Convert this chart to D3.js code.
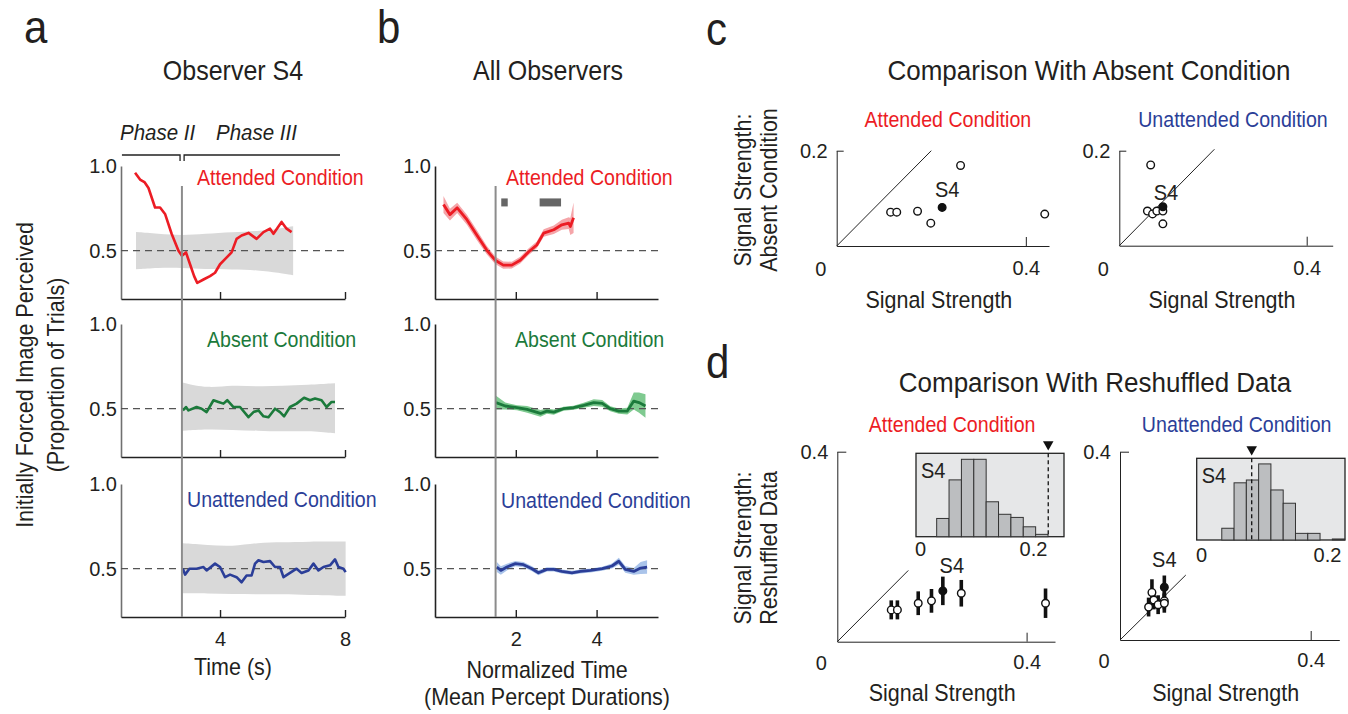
<!DOCTYPE html>
<html>
<head>
<meta charset="utf-8">
<script src="https://cdn.jsdelivr.net/npm/d3@7"></script>
<style>
body { margin: 0; background: #fff; }
svg { font-family: "Liberation Sans", Arial, sans-serif; }
.ax text { font-size: 20px; fill: #231f20; font-family: "Liberation Sans", Arial, sans-serif; }
</style>
</head>
<body>
<svg id="chart" width="1348" height="714"></svg>
<script>
// ---- data ----
var condNames = ['Attended Condition', 'Absent Condition', 'Unattended Condition'];
var condColors = ['#ec1c24', '#1b7a3b', '#2b3e98'];
var bandColors = ['#f5a5a9', '#7fca90', '#aac4ea'];

// panel a : observer S4, [time (s), proportion]
var aAttended = [[1.28,0.96],[1.44,0.92],[1.58,0.905],[1.71,0.87],[1.92,0.755],[2.08,0.755],[2.24,0.717],[2.45,0.60],[2.67,0.50],[2.78,0.47],[2.91,0.49],[3.04,0.42],[3.17,0.35],[3.27,0.31],[3.47,0.33],[3.68,0.35],[3.84,0.37],[4.0,0.42],[4.16,0.45],[4.37,0.49],[4.53,0.57],[4.69,0.59],[4.91,0.605],[5.17,0.57],[5.39,0.61],[5.6,0.63],[5.71,0.60],[5.97,0.67],[6.13,0.63],[6.29,0.61]];
var aAbsent = [[2.81,0.49],[2.91,0.51],[2.99,0.49],[3.25,0.51],[3.41,0.50],[3.57,0.48],[3.79,0.55],[3.95,0.54],[4.11,0.53],[4.23,0.55],[4.43,0.51],[4.64,0.51],[4.91,0.45],[5.07,0.48],[5.23,0.49],[5.39,0.455],[5.55,0.45],[5.76,0.50],[5.92,0.48],[6.05,0.455],[6.24,0.51],[6.45,0.53],[6.69,0.565],[6.88,0.55],[7.04,0.56],[7.25,0.55],[7.41,0.51],[7.57,0.54],[7.68,0.54]];
var aUnattended = [[2.81,0.50],[2.88,0.465],[3.02,0.50],[3.25,0.50],[3.47,0.51],[3.57,0.49],[3.84,0.53],[4.0,0.51],[4.16,0.45],[4.32,0.465],[4.53,0.45],[4.69,0.42],[4.85,0.46],[5.01,0.46],[5.12,0.53],[5.23,0.55],[5.39,0.54],[5.6,0.545],[5.76,0.51],[5.92,0.51],[6.03,0.45],[6.24,0.475],[6.45,0.50],[6.61,0.475],[6.83,0.49],[6.99,0.53],[7.15,0.49],[7.31,0.51],[7.52,0.52],[7.68,0.555],[7.79,0.51],[7.95,0.50],[8.02,0.48]];
// shuffled-control bands, [time, low, high]
var aBandAttended = [[1.31,0.39,0.61],[2.0,0.40,0.60],[2.8,0.40,0.59],[3.5,0.39,0.60],[4.4,0.39,0.61],[5.2,0.385,0.615],[5.9,0.37,0.63],[6.34,0.355,0.645]];
var aBandAbsent = [[2.8,0.37,0.655],[3.6,0.38,0.62],[4.4,0.375,0.64],[5.2,0.37,0.63],[6.0,0.365,0.635],[6.8,0.37,0.64],[7.68,0.355,0.65]];
var aBandUnattended = [[2.8,0.355,0.65],[3.6,0.355,0.64],[4.4,0.35,0.63],[5.2,0.35,0.655],[6.0,0.35,0.655],[6.8,0.345,0.66],[8.02,0.34,0.66]];
var aOnset = 2.78;
var phaseNames = ['Phase II', 'Phase III'];
var phaseSpans = [[0.86, 2.72], [2.85, 7.84]];

// panel b : all observers, [normalized time, proportion, s.e.m.]
var bAttended = [[0.21,0.773,0.05],[0.37,0.713,0.035],[0.55,0.753,0.03],[0.79,0.683,0.03],[1.03,0.594,0.03],[1.28,0.504,0.025],[1.49,0.444,0.022],[1.69,0.415,0.022],[1.90,0.415,0.02],[2.11,0.444,0.02],[2.32,0.494,0.02],[2.52,0.534,0.02],[2.69,0.604,0.022],[2.94,0.624,0.025],[3.14,0.653,0.03],[3.31,0.663,0.035],[3.35,0.643,0.05],[3.43,0.694,0.09]];
var bAbsent = [[1.51,0.536,0.04],[1.74,0.516,0.02],[2.03,0.506,0.015],[2.28,0.496,0.02],[2.61,0.472,0.02],[2.77,0.486,0.015],[2.94,0.48,0.015],[3.18,0.50,0.012],[3.43,0.506,0.012],[3.68,0.52,0.015],[3.93,0.536,0.02],[4.14,0.532,0.02],[4.34,0.50,0.015],[4.55,0.486,0.015],[4.76,0.486,0.02],[4.92,0.545,0.05],[5.05,0.536,0.06],[5.21,0.516,0.07]];
var bUnattended = [[1.53,0.51,0.03],[1.63,0.49,0.025],[1.78,0.51,0.02],[1.99,0.53,0.015],[2.19,0.524,0.015],[2.40,0.50,0.015],[2.56,0.476,0.015],[2.77,0.496,0.012],[2.94,0.496,0.012],[3.14,0.484,0.012],[3.39,0.476,0.012],[3.60,0.484,0.012],[3.85,0.49,0.012],[4.14,0.50,0.012],[4.38,0.516,0.015],[4.55,0.544,0.02],[4.71,0.496,0.02],[4.92,0.484,0.02],[5.09,0.504,0.035],[5.25,0.51,0.04]];
var bSignificant = [[1.64, 1.80], [2.59, 3.12]];
var bOnset = 1.5;

// panel c/d : signal strength per observer (S4 marked by index)
var attX = [0.114, 0.127, 0.171, 0.199, 0.223, 0.262, 0.440];
var attAbsentY = [0.071, 0.071, 0.073, 0.048, 0.081, 0.169, 0.067];
var attShufY = [0.067, 0.067, 0.081, 0.086, 0.107, 0.102, 0.081];
var attShufErr = [0.02, 0.02, 0.025, 0.025, 0.03, 0.028, 0.031];
var attS4 = 4;
var unaX = [0.060, 0.067, 0.071, 0.080, 0.093, 0.093, 0.093];
var unaAbsentY = [0.073, 0.170, 0.067, 0.073, 0.073, 0.046, 0.082];
var unaShufY = [0.070, 0.101, 0.085, 0.075, 0.083, 0.078, 0.112];
var unaShufErr = [0.02, 0.028, 0.02, 0.02, 0.018, 0.02, 0.025];
var unaS4 = 6;

// reshuffled-data histograms for S4
var attHistEdges = [0.0295, 0.0514, 0.0733, 0.0952, 0.1171, 0.139, 0.1609, 0.1828, 0.2047, 0.2266];
var attHistCounts = [7.0, 21.8, 29.7, 29.7, 13.4, 8.6, 7.4, 3.8, 0.9];
var attHistMark = 0.227;
var unaHistEdges = [0.033, 0.0525, 0.072, 0.0915, 0.111, 0.1305, 0.15, 0.1695, 0.189, 0.2085, 0.228];
var unaHistCounts = [4.6, 22.4, 23.5, 29.8, 19.6, 14.4, 2.6, 2.6, 0, 0.4];
var unaHistMark = 0.0805;

// ---- drawing ----
var svg = d3.select('#chart');
var ink = '#231f20';

// text a bit taller and squeezed, to mimic the condensed face of the original
function txt(x, y, s, size, opt) {
  opt = opt || {};
  var t = svg.append('text').attr('x', x).attr('y', y).text(s)
    .attr('font-size', size * 1.09).attr('fill', opt.fill || ink)
    .attr('text-anchor', opt.anchor || 'middle');
  if (opt.italic) t.attr('font-style', 'italic');
  if (opt.rotate) t.attr('transform', 'rotate(-90,' + x + ',' + y + ')');
  var w = t.node().getComputedTextLength();
  t.attr('textLength', w / 1.09).attr('lengthAdjust', 'spacingAndGlyphs');
  return t;
}

function cleanAxis(g) {
  g.attr('class', 'ax').attr('font-size', null).attr('font-family', null);
  return g;
}

// panel letters and titles
txt(24, 43, 'a', 42, {anchor: 'start'});
txt(377, 43, 'b', 42, {anchor: 'start'});
txt(706, 45, 'c', 42, {anchor: 'start'});
txt(706, 378, 'd', 42, {anchor: 'start'});
txt(233, 80, 'Observer S4', 25);
txt(548, 80, 'All Observers', 25);
txt(1089, 80, 'Comparison With Absent Condition', 26);
txt(1095, 392, 'Comparison With Reshuffled Data', 26);

// ---- panels a and b ----
var subTops = [166, 324, 484], subH = 133;
var yDom = [0.215, 1.0];
var xA = d3.scaleLinear().domain([0.83, 8]).range([121, 345]);
var xB = d3.scaleLinear().domain([0, 5.52]).range([435, 658]);

var aLines = [aAttended, aAbsent, aUnattended];
var aBands = [aBandAttended, aBandAbsent, aBandUnattended];
var bLines = [bAttended, bAbsent, bUnattended];
var aLabelPos = [[197, 185], [207, 347], [187, 507]];
var bLabelPos = [[506, 185], [515, 347], [501, 508]];

function timeAxes(x, y, i, ticks, yColor) {
  var bottom = y.range()[0];
  cleanAxis(svg.append('g').attr('transform', 'translate(' + x.range()[0] + ',0)')
    .attr('color', yColor)
    .call(d3.axisLeft(y).tickValues([0.5, 1.0]).tickSize(0).tickSizeOuter(0).tickPadding(4).tickFormat(d3.format('.1f'))))
    .select('.domain').attr('stroke-width', 1.6);
  cleanAxis(svg.append('g').attr('transform', 'translate(0,' + bottom + ')')
    .attr('color', '#222')
    .call(d3.axisBottom(x).tickValues(ticks).tickSize(-7).tickSizeOuter(0).tickPadding(15)
      .tickFormat(i === 2 ? d3.format('d') : function() { return ''; })))
    .selectAll('path,line').attr('stroke-width', 1.4);
  svg.append('line')
    .attr('x1', x.range()[0]).attr('x2', x.range()[1])
    .attr('y1', y(0.5)).attr('y2', y(0.5))
    .attr('stroke', '#555').attr('stroke-width', 1.2).attr('stroke-dasharray', '7,5');
}

subTops.forEach(function(top, i) {
  var y = d3.scaleLinear().domain(yDom).range([top + subH, top]);

  // a
  svg.append('path').datum(aBands[i])
    .attr('d', d3.area().curve(d3.curveBasis)
      .x(function(d) { return xA(d[0]); })
      .y0(function(d) { return y(d[1]); })
      .y1(function(d) { return y(d[2]); }))
    .attr('fill', '#d9d9d9');
  timeAxes(xA, y, i, [4, 8], '#707070');
  svg.append('path').datum(aLines[i])
    .attr('d', d3.line().x(function(d) { return xA(d[0]); }).y(function(d) { return y(d[1]); }))
    .attr('fill', 'none').attr('stroke', condColors[i]).attr('stroke-width', 2.6)
    .attr('stroke-linejoin', 'round');
  txt(aLabelPos[i][0], aLabelPos[i][1], condNames[i], 19.6, {anchor: 'start', fill: condColors[i]});

  // b
  svg.append('path').datum(bLines[i])
    .attr('d', d3.area()
      .x(function(d) { return xB(d[0]); })
      .y0(function(d) { return y(d[1] - d[2]); })
      .y1(function(d) { return y(d[1] + d[2]); }))
    .attr('fill', bandColors[i]);
  timeAxes(xB, y, i, [2, 4], '#222');
  svg.append('path').datum(bLines[i])
    .attr('d', d3.line().x(function(d) { return xB(d[0]); }).y(function(d) { return y(d[1]); }))
    .attr('fill', 'none').attr('stroke', condColors[i]).attr('stroke-width', 2.8)
    .attr('stroke-linejoin', 'round');
  txt(bLabelPos[i][0], bLabelPos[i][1], condNames[i], 19.6, {anchor: 'start', fill: condColors[i]});

  if (i === 0) {
    svg.selectAll('rect.sig').data(bSignificant).enter().append('rect')
      .attr('class', 'sig')
      .attr('x', function(d) { return xB(d[0]); })
      .attr('width', function(d) { return xB(d[1]) - xB(d[0]); })
      .attr('y', y(0.785) - 4).attr('height', 8)
      .attr('fill', '#666');
  }
});

// stimulus-onset lines
[[xA, aOnset], [xB, bOnset]].forEach(function(p) {
  svg.append('line').attr('x1', p[0](p[1])).attr('x2', p[0](p[1]))
    .attr('y1', 186).attr('y2', subTops[2] + subH)
    .attr('stroke', '#8c8c8c').attr('stroke-width', 2);
});

// phase brackets
phaseSpans.forEach(function(s, i) {
  var x0 = xA(s[0]), x1 = xA(s[1]);
  svg.append('path')
    .attr('d', i === 0 ? 'M' + x0 + ',155H' + x1 + 'V161' : 'M' + x0 + ',161V155H' + x1)
    .attr('fill', 'none').attr('stroke', '#222').attr('stroke-width', 1.3);
});
txt(120, 140, phaseNames[0], 20.5, {anchor: 'start', italic: true});
txt(216, 140, phaseNames[1], 20.5, {anchor: 'start', italic: true});

// axis titles a/b
txt(33, 375, 'Initially Forced Image Perceived', 21.5, {rotate: true});
txt(64, 375, '(Proportion of Trials)', 21.5, {rotate: true});
txt(233, 675, 'Time (s)', 21.5);
txt(547, 678, 'Normalized Time', 21.5);
txt(547, 705, '(Mean Percept Durations)', 21.5);

// ---- panels c and d ----
function scatterFrame(o) {
  var x = d3.scaleLinear().domain([0, o.xMax]).range([o.x0, o.x1]);
  var y = d3.scaleLinear().domain([0, o.yMax]).range([o.y0, o.y1]);
  cleanAxis(svg.append('g').attr('transform', 'translate(0,' + o.y0 + ')').attr('color', '#222')
    .call(d3.axisBottom(x).tickValues([0.4]).tickSize(-9).tickSizeOuter(0).tickPadding(o.xPad)
      .tickFormat(d3.format('.1f'))));
  cleanAxis(svg.append('g').attr('transform', 'translate(' + o.x0 + ',0)').attr('color', '#222')
    .call(d3.axisLeft(y).tickValues([o.yMax]).tickSize(-o.yTick).tickSizeOuter(0).tickPadding(9)
      .tickFormat(d3.format('.1f'))));
  svg.append('text').attr('class', 'ax').attr('x', o.x0 - 16).attr('y', o.y0 + o.xPad + 15)
    .attr('text-anchor', 'middle').attr('font-size', 20).attr('fill', ink).text('0');
  svg.append('line').attr('x1', x(0)).attr('y1', y(0)).attr('x2', x(o.diag)).attr('y2', y(o.diag))
    .attr('stroke', '#222').attr('stroke-width', 1);
  txt((o.x0 + o.x1) / 2 + o.titleDx, o.titleY, o.title, 19.6, {fill: o.color});
  txt((o.x0 + o.x1) / 2 - 4, o.labelY, 'Signal Strength', 21.5);
  return {x: x, y: y};
}

function dots(f, xs, ys, s4, off) {
  svg.append('g').selectAll('circle').data(xs).enter().append('circle')
    .attr('cx', function(d) { return f.x(d); })
    .attr('cy', function(d, i) { return f.y(ys[i]); })
    .attr('r', 3.8)
    .attr('fill', function(d, i) { return i === s4 ? '#111' : '#fff'; })
    .attr('stroke', '#111').attr('stroke-width', 1.4);
  txt(f.x(xs[s4]) + off[0], f.y(ys[s4]) + off[1], 'S4', 20);
}

function errBars(f, xs, ys, es) {
  svg.append('g').selectAll('line').data(xs).enter().append('line')
    .attr('x1', function(d) { return f.x(d); }).attr('x2', function(d) { return f.x(d); })
    .attr('y1', function(d, i) { return f.y(ys[i] - es[i]); })
    .attr('y2', function(d, i) { return f.y(ys[i] + es[i]); })
    .attr('stroke', '#111').attr('stroke-width', 3.6);
}

var cAtt = scatterFrame({x0: 836.7, x1: 1049, y0: 246, y1: 150.7, xMax: 0.449, yMax: 0.2, yTick: 7, xPad: 15, diag: 0.2,
  title: condNames[0], color: condColors[0], titleY: 127, titleDx: 5, labelY: 308});
dots(cAtt, attX, attAbsentY, attS4, [5, -10]);
var cUna = scatterFrame({x0: 1119.3, x1: 1332.7, y0: 245.7, y1: 150.7, xMax: 0.4555, yMax: 0.2, yTick: 7, xPad: 15, diag: 0.203,
  title: condNames[2], color: condColors[2], titleY: 127, titleDx: 7, labelY: 308});
dots(cUna, unaX, unaAbsentY, unaS4, [3, -7]);

var dAtt = scatterFrame({x0: 837.3, x1: 1055, y0: 641.7, y1: 451.7, xMax: 0.46, yMax: 0.4, yTick: 9, xPad: 13, diag: 0.15,
  title: condNames[0], color: condColors[0], titleY: 432, titleDx: 6, labelY: 701});
var dUna = scatterFrame({x0: 1120, x1: 1339.3, y0: 640, y1: 451.7, xMax: 0.46, yMax: 0.4, yTick: 9, xPad: 13, diag: 0.138,
  title: condNames[2], color: condColors[2], titleY: 432, titleDx: 7, labelY: 701});

// y titles c/d
txt(751, 190, 'Signal Strength:', 21.5, {rotate: true});
txt(777, 190, 'Absent Condition', 21.5, {rotate: true});
txt(751, 548, 'Signal Strength:', 21.5, {rotate: true});
txt(777, 548, 'Reshuffled Data', 21.5, {rotate: true});

// histogram insets
function inset(o) {
  var x = d3.scaleLinear().domain(o.xDom).range([o.bx0, o.bx1]);
  var y = d3.scaleLinear().domain([0, 32]).range([o.by1, o.by0]);
  svg.append('rect').attr('x', o.bx0).attr('y', o.by0).attr('width', o.bx1 - o.bx0).attr('height', o.by1 - o.by0)
    .attr('fill', '#e6e7e8').attr('stroke', '#222').attr('stroke-width', 1.3);
  svg.append('g').selectAll('rect').data(o.counts).enter().append('rect')
    .attr('x', function(d, i) { return x(o.edges[i]); })
    .attr('width', function(d, i) { return x(o.edges[i + 1]) - x(o.edges[i]); })
    .attr('y', function(d) { return y(d); })
    .attr('height', function(d) { return y(0) - y(d); })
    .attr('fill', '#bcbec0').attr('stroke', '#333').attr('stroke-width', 1);
  cleanAxis(svg.append('g').attr('transform', 'translate(0,' + o.by1 + ')').attr('color', '#222')
    .call(d3.axisBottom(x).tickValues([0, 0.2]).tickSize(0).tickPadding(o.pad)
      .tickFormat(function(d) { return d === 0 ? '0' : d3.format('.1f')(d); })))
    .select('.domain').remove();
  svg.append('line').attr('x1', x(o.mark)).attr('x2', x(o.mark)).attr('y1', o.by0).attr('y2', o.by1)
    .attr('stroke', '#111').attr('stroke-width', 1.3).attr('stroke-dasharray', '4,3');
  svg.append('path').attr('d', d3.symbol().type(d3.symbolTriangle).size(48)())
    .attr('transform', 'translate(' + x(o.mark) + ',' + (o.by0 - 9) + ') rotate(180)')
    .attr('fill', '#111');
  txt(o.bx0 + 5, o.by0 + 25, 'S4', 20, {anchor: 'start'});
}

inset({bx0: 916, bx1: 1064, by0: 453.3, by1: 536.7, xDom: [-0.0071, 0.2549], edges: attHistEdges, counts: attHistCounts, mark: attHistMark, pad: 5});
inset({bx0: 1196.7, bx1: 1345, by0: 458.3, by1: 540, xDom: [-0.0068, 0.2286], edges: unaHistEdges, counts: unaHistCounts, mark: unaHistMark, pad: 8});

errBars(dAtt, attX, attShufY, attShufErr);
dots(dAtt, attX, attShufY, attS4, [9, -18]);
errBars(dUna, unaX, unaShufY, unaShufErr);
dots(dUna, unaX, unaShufY, unaS4, [0, -20]);
</script>
</body>
</html>
